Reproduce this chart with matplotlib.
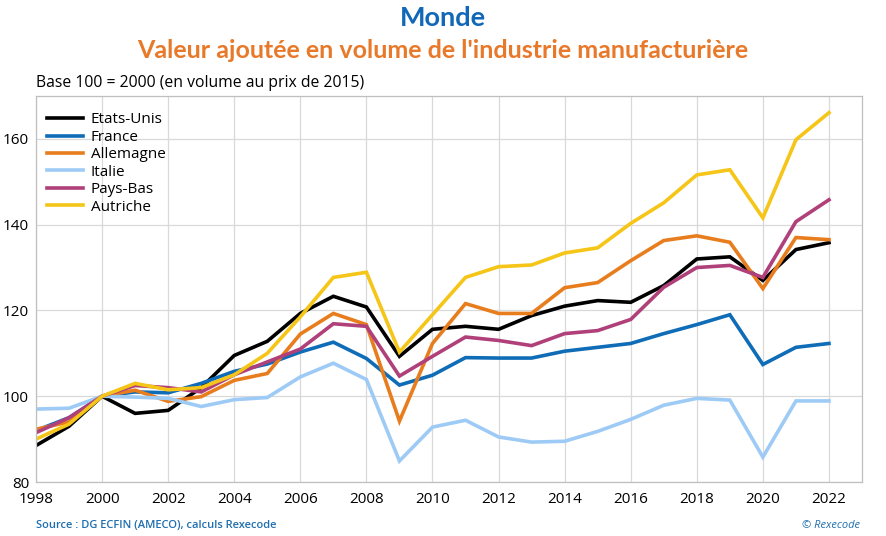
import matplotlib
matplotlib.use("Agg")
import matplotlib.pyplot as plt

years = list(range(1998, 2023))

etats_unis = [88.5, 93.0, 100.0, 96.0, 96.7, 102.0, 109.5, 112.8, 119.3, 123.3, 120.8, 109.3, 115.6, 116.3, 115.6, 118.8, 121.0, 122.3, 121.9, 125.8, 132.0, 132.5, 127.0, 134.2, 135.8]
france = [92.0, 95.0, 100.0, 101.0, 100.8, 103.0, 105.8, 107.5, 110.3, 112.6, 108.8, 102.6, 104.9, 109.0, 108.9, 108.9, 110.5, 111.4, 112.3, 114.6, 116.7, 119.0, 107.4, 111.4, 112.3]
allemagne = [92.3, 94.0, 100.0, 101.4, 98.8, 99.9, 103.7, 105.3, 114.5, 119.3, 116.7, 94.2, 112.3, 121.6, 119.3, 119.3, 125.3, 126.5, 131.6, 136.3, 137.4, 135.9, 125.1, 137.0, 136.5]
italie = [97.0, 97.2, 100.0, 99.8, 99.5, 97.6, 99.2, 99.7, 104.5, 107.7, 103.9, 84.9, 92.8, 94.4, 90.5, 89.3, 89.5, 91.8, 94.6, 97.9, 99.5, 99.1, 85.8, 98.9, 98.9]
pays_bas = [91.5, 95.0, 100.0, 102.5, 102.0, 101.0, 105.0, 108.0, 111.0, 116.9, 116.3, 104.7, 109.3, 113.8, 113.0, 111.8, 114.6, 115.3, 117.9, 125.4, 130.0, 130.5, 127.7, 140.7, 145.8]
autriche = [90.0, 93.5, 100.0, 103.0, 101.5, 102.0, 105.0, 110.0, 118.5, 127.7, 128.9, 110.3, 119.0, 127.7, 130.2, 130.6, 133.4, 134.6, 140.3, 145.1, 151.6, 152.8, 141.6, 159.8, 166.1]

series_names = ["Etats-Unis", "France", "Allemagne", "Italie", "Pays-Bas", "Autriche"]
series_values = [etats_unis, france, allemagne, italie, pays_bas, autriche]
colors = ["#000000", "#0f6cb6", "#e87d1e", "#9ecbf5", "#b0407a", "#f5c518"]

xticks = list(range(1998, 2023, 2))
yticks = [80, 100, 120, 140, 160]

plt.rcParams['font.family'] = ['Open Sans', 'DejaVu Sans']

fig = plt.figure(figsize=(8.87, 5.36), dpi=100)
ax = fig.add_axes([36/887, 1-482/536, (862-36)/887, (482-96)/536])

for name, vals, c in zip(series_names, series_values, colors):
    ax.plot(years, vals, color=c, lw=2.6, label=name, solid_joinstyle='miter')

ax.set_xlim(1998, 2023)
ax.set_ylim(80, 170)
ax.set_xticks(xticks)
ax.set_yticks(yticks)
ax.tick_params(axis='x', length=0, labelsize=11, pad=7)
ax.tick_params(axis='y', length=0, labelsize=11, pad=5)
ax.grid(True, color='#d9d9d9', lw=0.9)
ax.set_axisbelow(True)
for s in ax.spines.values():
    s.set_color('#bfbfbf')
    s.set_linewidth(0.9)

leg = ax.legend(loc='upper left', bbox_to_anchor=(0.0, 0.985), frameon=False, fontsize=11,
                handlelength=2.4, handletextpad=0.5, labelspacing=0.16, borderaxespad=0.3)

fig.text(443/887, 1-18/536, "Monde", ha='center', va='center', fontsize=19.5,
         fontweight='bold', color='#1168b8', family=['Lato', 'DejaVu Sans'])
fig.text(443/887, 1-50/536, "Valeur ajoutée en volume de l'industrie manufacturière",
         ha='center', va='center', fontsize=18, fontweight='bold', color='#e8792a',
         family=['Lato', 'DejaVu Sans'])
fig.text(36/887, 1-83/536, "Base 100 = 2000 (en volume au prix de 2015)", ha='left',
         va='center', fontsize=11.3, color='#000000')
fig.text(36/887, 1-525/536, "Source : DG ECFIN (AMECO), calculs Rexecode", ha='left',
         va='center', fontsize=8, color='#1f6fb0', fontweight='semibold')
fig.text(860/887, 1-525/536, "© Rexecode", ha='right', va='center', fontsize=8,
         color='#1f6fb0', style='italic')

fig.savefig("out.png", dpi=100)
